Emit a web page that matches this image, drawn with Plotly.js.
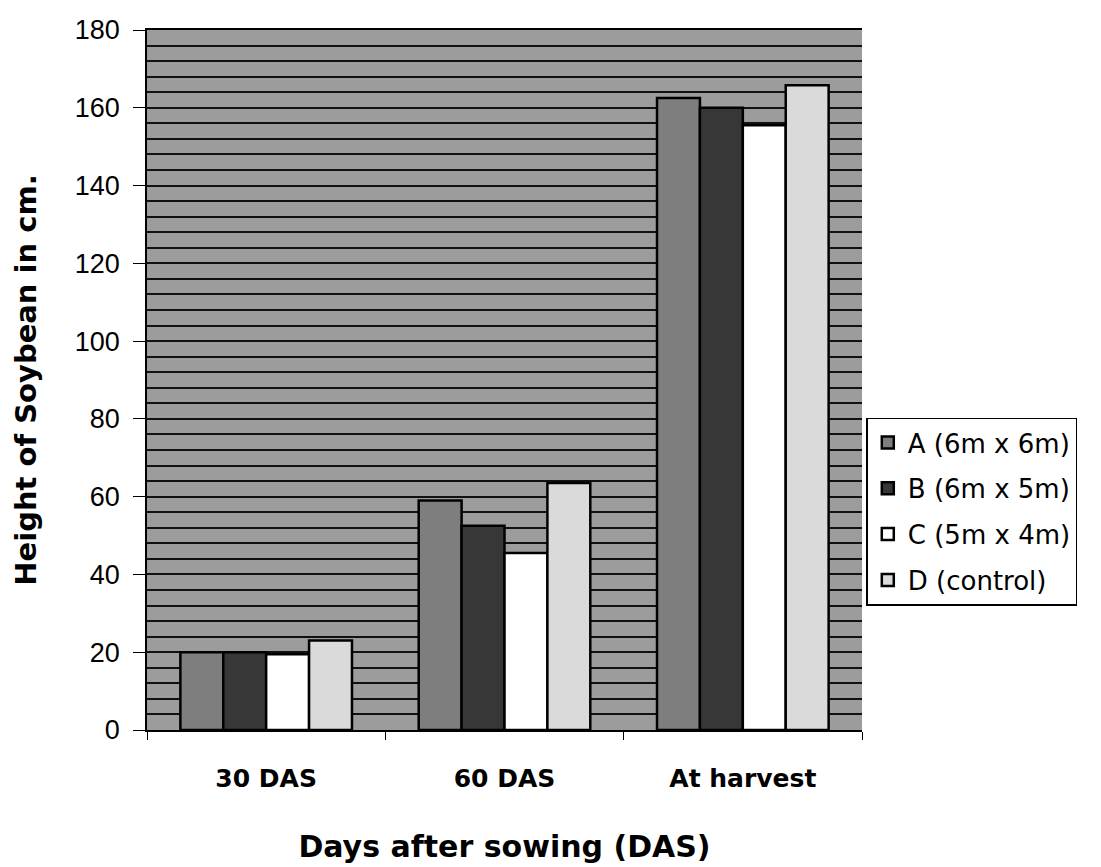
<!DOCTYPE html>
<html><head><meta charset="utf-8">
<script src="https://cdn.plot.ly/plotly-3.0.1.min.js"></script>
<style>body{margin:0;background:#fff}#c{width:1101px;height:867px}</style>
</head><body><div id="c"></div>
<script>
const categories = ["30 DAS", "60 DAS", "At harvest"];
const seriesNames = ["A (6m x 6m)", "B (6m x 5m)", "C (5m x 4m)", "D (control)"];
const valuesA = [20, 59, 162.5];
const valuesB = [20, 52.5, 160];
const valuesC = [19.5, 45.5, 155.5];
const valuesD = [23, 63.5, 165.8];
const colors = ["#7e7e7e", "#373737", "#ffffff", "#dadada"];
const allValues = [valuesA, valuesB, valuesC, valuesD];

const traces = allValues.map((v, i) => ({
  type: "bar", x: categories, y: v, name: seriesNames[i], legendgroup: "g" + i,
  marker: {color: colors[i], line: {color: "#000", width: 2.5}}
}));

const layout = {
  width: 1101, height: 867,
  margin: {l: 147, r: 239, t: 30, b: 137},
  paper_bgcolor: "#fff", plot_bgcolor: "#9c9c9c",
  font: {family: "Liberation Sans, Arial, sans-serif", color: "#000"},
  barmode: "group", bargap: 0.28, bargroupgap: 0,
  showlegend: true,
  legend: {x: 1.006, xanchor: "left", y: 0.312, yanchor: "middle",
    bgcolor: "#fff", bordercolor: "#000", borderwidth: 1.5,
    font: {size: 26, family: "DejaVu Sans, sans-serif"}, itemwidth: 30, tracegroupgap: 9},
  xaxis: {
    type: "category", tickson: "boundaries", ticks: "outside", ticklen: 8,
    tickcolor: "#000", showline: true, linecolor: "#000", linewidth: 1.5, mirror: true,
    ticklabelstandoff: 25,
    tickfont: {size: 25, family: "DejaVu Sans, sans-serif", weight: "bold"},
    title: {text: "<b>Days after sowing (DAS)</b>", font: {size: 30, family: "DejaVu Sans, sans-serif"}, standoff: 44},
    showgrid: false
  },
  yaxis: {
    range: [0, 180], dtick: 20, ticks: "outside", ticklen: 12, tickcolor: "#000",
    showline: true, linecolor: "#000", linewidth: 1.5,
    ticklabelstandoff: 8,
    tickfont: {size: 27},
    gridcolor: "#111", gridwidth: 1.5,
    minor: {dtick: 4, showgrid: true, gridcolor: "#111", gridwidth: 1.5},
    title: {text: "<b>Height of Soybean in cm.</b>", font: {size: 29, family: "DejaVu Sans, sans-serif"}, standoff: 30},
    zeroline: false
  }
};
Plotly.newPlot("c", traces, layout, {displayModeBar: false});
</script></body></html>
